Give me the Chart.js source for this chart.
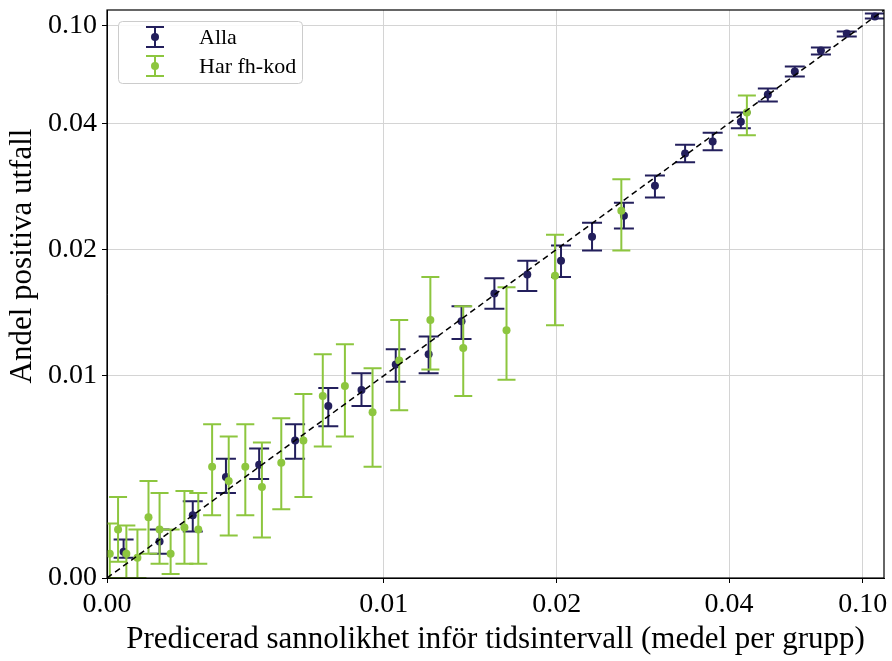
<!DOCTYPE html>
<html>
<head>
<meta charset="utf-8">
<script src="https://cdn.jsdelivr.net/npm/chart.js@4/dist/chart.umd.min.js"></script>
<style>
  html, body { margin: 0; padding: 0; background: #fff; }
  canvas { display: block; }
</style>
</head>
<body>
<canvas id="kalibrering" width="892" height="661"></canvas>
<script>
// Tick values and labels (same on both axes)
const tickValues = [0, 0.01, 0.02, 0.04, 0.10];
const tickLabels = ['0.00', '0.01', '0.02', '0.04', '0.10'];

// Alla: predicted mean, observed share, error bar bounds
const allaX  = [0.0006, 0.0019, 0.0031, 0.0043, 0.0055, 0.0068, 0.0080, 0.0092, 0.0107, 0.0126, 0.0145, 0.0164, 0.0183, 0.0205, 0.0241, 0.0278, 0.0314, 0.0349, 0.0381, 0.0453, 0.0574, 0.0695, 0.0812, 0.0928, 0.1054];
const allaY  = [0.0013, 0.0018, 0.0031, 0.0050, 0.0056, 0.0068, 0.0085, 0.0093, 0.0109, 0.0117, 0.0143, 0.0165, 0.0180, 0.0191, 0.0220, 0.0253, 0.0301, 0.0352, 0.0371, 0.0410, 0.0576, 0.0718, 0.0847, 0.0951, 0.1055];
const allaLo = [0.0010, 0.0012, 0.0023, 0.0042, 0.0049, 0.0059, 0.0075, 0.0085, 0.0097, 0.0102, 0.0129, 0.0153, 0.0167, 0.0178, 0.0199, 0.0233, 0.0282, 0.0338, 0.0357, 0.0392, 0.0533, 0.0687, 0.0822, 0.0933, 0.1043];
const allaHi = [0.0019, 0.0024, 0.0038, 0.0059, 0.0064, 0.0076, 0.0094, 0.0102, 0.0121, 0.0131, 0.0155, 0.0177, 0.0191, 0.0206, 0.0242, 0.0274, 0.0317, 0.0366, 0.0385, 0.0466, 0.0613, 0.0748, 0.0865, 0.0963, 0.1074];

// Har fh-kod
const fhX  = [0.0001, 0.0004, 0.0007, 0.0011, 0.0015, 0.0019, 0.0023, 0.0028, 0.0033, 0.0038, 0.0044, 0.0050, 0.0056, 0.0063, 0.0071, 0.0078, 0.0086, 0.0096, 0.0109, 0.0127, 0.0146, 0.0171, 0.0199, 0.0275, 0.0480];
const fhY  = [0.0012, 0.0024, 0.0012, 0.0010, 0.0030, 0.0024, 0.0012, 0.0025, 0.0024, 0.0055, 0.0048, 0.0055, 0.0045, 0.0057, 0.0068, 0.0090, 0.0095, 0.0082, 0.0112, 0.0144, 0.0122, 0.0136, 0.0179, 0.0261, 0.0466];
const fhLo = [0, 0.0008, 0, 0, 0.0012, 0.0007, 0.0002, 0.0007, 0.0007, 0.0031, 0.0021, 0.0031, 0.0020, 0.0034, 0.0040, 0.0065, 0.0070, 0.0055, 0.0083, 0.0105, 0.0090, 0.0098, 0.0140, 0.0199, 0.0381];
const fhHi = [0.0027, 0.0040, 0.0026, 0.0024, 0.0048, 0.0042, 0.0024, 0.0043, 0.0042, 0.0076, 0.0070, 0.0076, 0.0067, 0.0079, 0.0091, 0.0117, 0.0125, 0.0106, 0.0144, 0.0178, 0.0155, 0.0170, 0.0223, 0.0311, 0.0570];

// perfekt kalibrering
const diagonal = [0, 0.11];

// axis transform: where each tick value sits along the axis (0..1)
const axisKnots = [0, 0.366, 0.595, 0.823, 1];
const axisMax = 0.1095;

const NAVY = '#231f5c';
const GREEN = '#8dc63f';

function toAxis(v) {
  let i = 1;
  while (i < tickValues.length - 1 && v > tickValues[i]) i++;
  const v0 = tickValues[i - 1], v1 = tickValues[i];
  return axisKnots[i - 1] + (v - v0) / (v1 - v0) * (axisKnots[i] - axisKnots[i - 1]);
}
function fromAxis(t) {
  let i = 1;
  while (i < axisKnots.length - 1 && t > axisKnots[i]) i++;
  const k0 = axisKnots[i - 1], k1 = axisKnots[i];
  return tickValues[i - 1] + (t - k0) / (k1 - k0) * (tickValues[i] - tickValues[i - 1]);
}

const LinearScale = Chart.LinearScale || Chart.registry.getScale('linear');

// piecewise axis like the original figure
class GroupScale extends LinearScale {
  buildTicks() {
    return tickValues.map(v => ({ value: v }));
  }
  getPixelForValue(value) {
    const a = toAxis(this.min), b = toAxis(this.max);
    return this.getPixelForDecimal((toAxis(value) - a) / (b - a));
  }
  getValueForPixel(pixel) {
    const a = toAxis(this.min), b = toAxis(this.max);
    return fromAxis(a + this.getDecimalForPixel(pixel) * (b - a));
  }
}
GroupScale.id = 'grupp';
GroupScale.defaults = LinearScale.defaults;
Chart.register(GroupScale);

const errorBars = {
  id: 'errorBars',
  beforeDatasetDraw(chart, args) {
    const ds = chart.data.datasets[args.index];
    if (!ds.errLo) return;
    const { ctx, chartArea, scales: { x, y } } = chart;
    ctx.save();
    ctx.beginPath();
    ctx.rect(chartArea.left, chartArea.top, chartArea.right - chartArea.left, chartArea.bottom - chartArea.top);
    ctx.clip();
    ctx.strokeStyle = ds.backgroundColor;
    ctx.lineWidth = 2;
    ds.data.forEach((p, i) => {
      const px = x.getPixelForValue(p.x);
      const lo = y.getPixelForValue(ds.errLo[i]);
      const hi = y.getPixelForValue(ds.errHi[i]);
      const c = ds.capHalf;
      ctx.beginPath();
      ctx.moveTo(px, lo); ctx.lineTo(px, hi);
      ctx.moveTo(px - c, lo); ctx.lineTo(px + c, lo);
      ctx.moveTo(px - c, hi); ctx.lineTo(px + c, hi);
      ctx.stroke();
    });
    ctx.restore();
  }
};

const frameAndLegend = {
  id: 'frameAndLegend',
  afterDraw(chart) {
    const { ctx, chartArea: a } = chart;
    ctx.save();
    ctx.strokeStyle = '#000';
    ctx.lineWidth = 1.2;
    ctx.strokeRect(a.left, a.top, a.right - a.left, a.bottom - a.top);

    // y title, sits a bit above the axis centre in the original
    ctx.save();
    ctx.translate(23, 256);
    ctx.rotate(-Math.PI / 2);
    ctx.fillStyle = '#000';
    ctx.font = '31px "Liberation Serif"';
    ctx.textAlign = 'center';
    ctx.textBaseline = 'middle';
    ctx.fillText('Andel positiva utfall', 0, 0);
    ctx.restore();

    // legend
    const x0 = a.left + 11, y0 = a.top + 11;
    ctx.fillStyle = 'rgba(255,255,255,0.85)';
    ctx.strokeStyle = '#cccccc';
    ctx.lineWidth = 1;
    ctx.beginPath();
    ctx.roundRect(x0 + 0.5, y0 + 0.5, 184, 62, 4);
    ctx.fill();
    ctx.stroke();
    const entries = chart.data.datasets.filter(d => d.errLo);
    entries.forEach((d, i) => {
      const cx = x0 + 37, cy = y0 + 16 + i * 29;
      ctx.strokeStyle = d.backgroundColor;
      ctx.fillStyle = d.backgroundColor;
      ctx.lineWidth = 2;
      ctx.beginPath();
      ctx.moveTo(cx, cy - 10); ctx.lineTo(cx, cy + 10);
      ctx.moveTo(cx - 9, cy - 10); ctx.lineTo(cx + 9, cy - 10);
      ctx.moveTo(cx - 9, cy + 10); ctx.lineTo(cx + 9, cy + 10);
      ctx.stroke();
      ctx.beginPath();
      ctx.arc(cx, cy, 4, 0, Math.PI * 2);
      ctx.fill();
      ctx.fillStyle = '#000';
      ctx.font = '22px "Liberation Serif"';
      ctx.textBaseline = 'middle';
      ctx.fillText(d.label, x0 + 81, cy + 1);
    });
    ctx.restore();
  }
};

const toPoints = (xs, ys) => xs.map((x, i) => ({ x: x, y: ys[i] }));

Chart.defaults.font.family = '"Liberation Serif", serif';
Chart.defaults.color = '#000';

const axis = (title, isX) => ({
  type: 'grupp',
  min: 0,
  max: axisMax,
  grid: { color: '#d4d4d4', lineWidth: 1, tickLength: 5, tickColor: '#000', tickWidth: 1 },
  border: { color: '#000', width: 1 },
  ticks: {
    font: { size: 28 },
    padding: isX ? 5 : 5,
    autoSkip: false,
    maxRotation: 0,
    callback: (v, i) => tickLabels[i]
  },
  title: {
    display: isX,
    text: title,
    font: { size: 31 },
    padding: { top: 0, bottom: 3 }
  },
  afterFit(scale) {
    if (isX) scale.height = 83; else scale.width = 107;
    scale.paddingLeft = 0; scale.paddingRight = 0;
    scale.paddingTop = 0; scale.paddingBottom = 0;
  }
});

new Chart(document.getElementById('kalibrering'), {
  type: 'scatter',
  data: {
    datasets: [
      {
        label: 'Alla',
        data: toPoints(allaX, allaY),
        errLo: allaLo, errHi: allaHi, capHalf: 10,
        backgroundColor: NAVY,
        borderWidth: 0,
        pointRadius: 4,
        order: 3
      },
      {
        label: 'Har fh-kod',
        data: toPoints(fhX, fhY),
        errLo: fhLo, errHi: fhHi, capHalf: 9,
        backgroundColor: GREEN,
        borderWidth: 0,
        pointRadius: 4,
        order: 2
      },
      {
        label: 'diagonal',
        type: 'line',
        data: toPoints(diagonal, diagonal),
        borderColor: '#000',
        borderWidth: 1.5,
        borderDash: [6, 4],
        pointRadius: 0,
        fill: false,
        order: 1
      }
    ]
  },
  options: {
    responsive: false,
    animation: false,
    layout: { padding: { left: 0, right: 8, top: 10, bottom: 0 } },
    plugins: {
      legend: { display: false },
      tooltip: { enabled: false }
    },
    scales: {
      x: axis('Predicerad sannolikhet inför tidsintervall (medel per grupp)', true),
      y: axis('Andel positiva utfall', false)
    }
  },
  plugins: [errorBars, frameAndLegend]
});
</script>
</body>
</html>
